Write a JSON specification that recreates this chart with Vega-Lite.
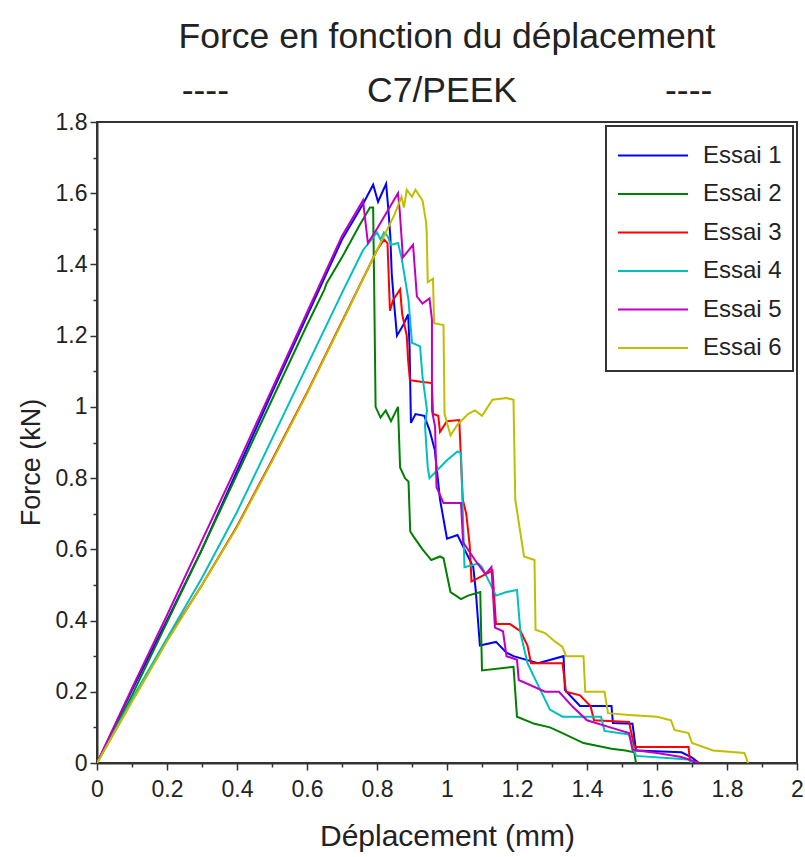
{
"$schema": "https://vega.github.io/schema/vega-lite/v6.json",
"width": 700, "height": 641,
"autosize": "none",
"padding": {"left": 97, "top": 122, "right": 8, "bottom": 94},
"background": "white",
"title": {"text": "Force en fonction du déplacement", "subtitle": "----\u00a0\u00a0\u00a0\u00a0\u00a0\u00a0\u00a0\u00a0\u00a0\u00a0\u00a0\u00a0\u00a0\u00a0C7/PEEK\u00a0\u00a0\u00a0\u00a0\u00a0\u00a0\u00a0\u00a0\u00a0\u00a0\u00a0\u00a0\u00a0\u00a0\u00a0----", "anchor": "middle", "font": "Liberation Sans", "subtitleFont": "Liberation Sans", "fontSize": 35.5, "subtitleFontSize": 35.5, "fontWeight": "normal", "color": "#222", "subtitleColor": "#222", "offset": 2, "subtitlePadding": 18},
"config": {
  "view": {"stroke": "#333", "strokeWidth": 2},
  "axis": {"grid": false, "domainColor": "#333", "domainWidth": 2, "tickColor": "#333", "tickWidth": 1.5, "labelColor": "#222", "titleColor": "#222", "labelFont": "Liberation Sans", "titleFont": "Liberation Sans", "labelFontSize": 23, "titleFontSize": 30, "titleFontWeight": "normal", "labelOverlap": false, "labelFlush": false}
},
"data": {"values": [
{"s":"Essai 1","x":0,"y":0},{"s":"Essai 1","x":0.1,"y":0.205},{"s":"Essai 1","x":0.2,"y":0.4},{"s":"Essai 1","x":0.3,"y":0.6},{"s":"Essai 1","x":0.4,"y":0.82},{"s":"Essai 1","x":0.5,"y":1.04},{"s":"Essai 1","x":0.6,"y":1.255},{"s":"Essai 1","x":0.7,"y":1.47},{"s":"Essai 1","x":0.76,"y":1.57},{"s":"Essai 1","x":0.789,"y":1.624},{"s":"Essai 1","x":0.803,"y":1.576},{"s":"Essai 1","x":0.826,"y":1.626},{"s":"Essai 1","x":0.832,"y":1.56},{"s":"Essai 1","x":0.838,"y":1.48},{"s":"Essai 1","x":0.842,"y":1.376},{"s":"Essai 1","x":0.848,"y":1.3},{"s":"Essai 1","x":0.857,"y":1.2},{"s":"Essai 1","x":0.875,"y":1.23},{"s":"Essai 1","x":0.889,"y":1.26},{"s":"Essai 1","x":0.893,"y":1.17},{"s":"Essai 1","x":0.897,"y":0.955},{"s":"Essai 1","x":0.91,"y":0.98},{"s":"Essai 1","x":0.935,"y":0.975},{"s":"Essai 1","x":0.95,"y":0.935},{"s":"Essai 1","x":0.965,"y":0.88},{"s":"Essai 1","x":0.98,"y":0.74},{"s":"Essai 1","x":1.0,"y":0.63},{"s":"Essai 1","x":1.03,"y":0.64},{"s":"Essai 1","x":1.05,"y":0.6},{"s":"Essai 1","x":1.075,"y":0.55},{"s":"Essai 1","x":1.082,"y":0.486},{"s":"Essai 1","x":1.094,"y":0.33},{"s":"Essai 1","x":1.14,"y":0.34},{"s":"Essai 1","x":1.17,"y":0.31},{"s":"Essai 1","x":1.19,"y":0.3},{"s":"Essai 1","x":1.26,"y":0.28},{"s":"Essai 1","x":1.333,"y":0.3},{"s":"Essai 1","x":1.337,"y":0.205},{"s":"Essai 1","x":1.38,"y":0.16},{"s":"Essai 1","x":1.47,"y":0.16},{"s":"Essai 1","x":1.474,"y":0.112},{"s":"Essai 1","x":1.53,"y":0.11},{"s":"Essai 1","x":1.54,"y":0.035},{"s":"Essai 1","x":1.67,"y":0.03},{"s":"Essai 1","x":1.7,"y":0.015},{"s":"Essai 1","x":1.72,"y":0},
{"s":"Essai 2","x":0,"y":0},{"s":"Essai 2","x":0.1,"y":0.19},{"s":"Essai 2","x":0.2,"y":0.395},{"s":"Essai 2","x":0.3,"y":0.6},{"s":"Essai 2","x":0.4,"y":0.81},{"s":"Essai 2","x":0.5,"y":1.02},{"s":"Essai 2","x":0.6,"y":1.23},{"s":"Essai 2","x":0.65,"y":1.33},{"s":"Essai 2","x":0.655,"y":1.345},{"s":"Essai 2","x":0.7,"y":1.42},{"s":"Essai 2","x":0.75,"y":1.51},{"s":"Essai 2","x":0.78,"y":1.56},{"s":"Essai 2","x":0.789,"y":1.56},{"s":"Essai 2","x":0.792,"y":1.33},{"s":"Essai 2","x":0.796,"y":1.0},{"s":"Essai 2","x":0.81,"y":0.97},{"s":"Essai 2","x":0.825,"y":0.99},{"s":"Essai 2","x":0.84,"y":0.96},{"s":"Essai 2","x":0.86,"y":1.0},{"s":"Essai 2","x":0.866,"y":0.83},{"s":"Essai 2","x":0.88,"y":0.8},{"s":"Essai 2","x":0.89,"y":0.79},{"s":"Essai 2","x":0.895,"y":0.65},{"s":"Essai 2","x":0.905,"y":0.635},{"s":"Essai 2","x":0.93,"y":0.6},{"s":"Essai 2","x":0.955,"y":0.57},{"s":"Essai 2","x":0.98,"y":0.58},{"s":"Essai 2","x":0.99,"y":0.575},{"s":"Essai 2","x":1.01,"y":0.48},{"s":"Essai 2","x":1.04,"y":0.46},{"s":"Essai 2","x":1.06,"y":0.47},{"s":"Essai 2","x":1.095,"y":0.48},{"s":"Essai 2","x":1.1,"y":0.26},{"s":"Essai 2","x":1.19,"y":0.27},{"s":"Essai 2","x":1.2,"y":0.13},{"s":"Essai 2","x":1.25,"y":0.11},{"s":"Essai 2","x":1.294,"y":0.1},{"s":"Essai 2","x":1.33,"y":0.084},{"s":"Essai 2","x":1.39,"y":0.056},{"s":"Essai 2","x":1.47,"y":0.04},{"s":"Essai 2","x":1.51,"y":0.035},{"s":"Essai 2","x":1.535,"y":0.03},{"s":"Essai 2","x":1.54,"y":0},
{"s":"Essai 3","x":0,"y":0},{"s":"Essai 3","x":0.1,"y":0.175},{"s":"Essai 3","x":0.2,"y":0.345},{"s":"Essai 3","x":0.3,"y":0.5},{"s":"Essai 3","x":0.4,"y":0.665},{"s":"Essai 3","x":0.5,"y":0.85},{"s":"Essai 3","x":0.6,"y":1.04},{"s":"Essai 3","x":0.7,"y":1.24},{"s":"Essai 3","x":0.8,"y":1.44},{"s":"Essai 3","x":0.82,"y":1.47},{"s":"Essai 3","x":0.83,"y":1.46},{"s":"Essai 3","x":0.837,"y":1.27},{"s":"Essai 3","x":0.846,"y":1.3},{"s":"Essai 3","x":0.866,"y":1.33},{"s":"Essai 3","x":0.872,"y":1.26},{"s":"Essai 3","x":0.885,"y":1.2},{"s":"Essai 3","x":0.889,"y":1.13},{"s":"Essai 3","x":0.894,"y":1.075},{"s":"Essai 3","x":0.93,"y":1.07},{"s":"Essai 3","x":0.957,"y":1.067},{"s":"Essai 3","x":0.96,"y":0.98},{"s":"Essai 3","x":0.975,"y":0.975},{"s":"Essai 3","x":0.98,"y":0.93},{"s":"Essai 3","x":1.0,"y":0.96},{"s":"Essai 3","x":1.035,"y":0.963},{"s":"Essai 3","x":1.045,"y":0.74},{"s":"Essai 3","x":1.055,"y":0.7},{"s":"Essai 3","x":1.065,"y":0.61},{"s":"Essai 3","x":1.07,"y":0.51},{"s":"Essai 3","x":1.09,"y":0.52},{"s":"Essai 3","x":1.13,"y":0.54},{"s":"Essai 3","x":1.14,"y":0.39},{"s":"Essai 3","x":1.18,"y":0.39},{"s":"Essai 3","x":1.21,"y":0.37},{"s":"Essai 3","x":1.23,"y":0.33},{"s":"Essai 3","x":1.24,"y":0.28},{"s":"Essai 3","x":1.33,"y":0.28},{"s":"Essai 3","x":1.34,"y":0.2},{"s":"Essai 3","x":1.38,"y":0.19},{"s":"Essai 3","x":1.41,"y":0.16},{"s":"Essai 3","x":1.42,"y":0.12},{"s":"Essai 3","x":1.52,"y":0.115},{"s":"Essai 3","x":1.535,"y":0.045},{"s":"Essai 3","x":1.69,"y":0.045},{"s":"Essai 3","x":1.695,"y":0},
{"s":"Essai 4","x":0,"y":0},{"s":"Essai 4","x":0.1,"y":0.18},{"s":"Essai 4","x":0.2,"y":0.35},{"s":"Essai 4","x":0.3,"y":0.52},{"s":"Essai 4","x":0.4,"y":0.705},{"s":"Essai 4","x":0.5,"y":0.91},{"s":"Essai 4","x":0.6,"y":1.115},{"s":"Essai 4","x":0.7,"y":1.32},{"s":"Essai 4","x":0.76,"y":1.44},{"s":"Essai 4","x":0.8,"y":1.49},{"s":"Essai 4","x":0.81,"y":1.47},{"s":"Essai 4","x":0.82,"y":1.49},{"s":"Essai 4","x":0.83,"y":1.48},{"s":"Essai 4","x":0.84,"y":1.455},{"s":"Essai 4","x":0.86,"y":1.46},{"s":"Essai 4","x":0.87,"y":1.42},{"s":"Essai 4","x":0.88,"y":1.36},{"s":"Essai 4","x":0.89,"y":1.3},{"s":"Essai 4","x":0.9,"y":1.18},{"s":"Essai 4","x":0.923,"y":1.17},{"s":"Essai 4","x":0.93,"y":1.085},{"s":"Essai 4","x":0.943,"y":0.99},{"s":"Essai 4","x":0.937,"y":0.95},{"s":"Essai 4","x":0.945,"y":0.83},{"s":"Essai 4","x":0.95,"y":0.8},{"s":"Essai 4","x":0.97,"y":0.82},{"s":"Essai 4","x":1.0,"y":0.85},{"s":"Essai 4","x":1.03,"y":0.875},{"s":"Essai 4","x":1.04,"y":0.87},{"s":"Essai 4","x":1.05,"y":0.55},{"s":"Essai 4","x":1.09,"y":0.56},{"s":"Essai 4","x":1.1,"y":0.55},{"s":"Essai 4","x":1.14,"y":0.47},{"s":"Essai 4","x":1.17,"y":0.48},{"s":"Essai 4","x":1.2,"y":0.486},{"s":"Essai 4","x":1.21,"y":0.365},{"s":"Essai 4","x":1.23,"y":0.28},{"s":"Essai 4","x":1.257,"y":0.225},{"s":"Essai 4","x":1.294,"y":0.15},{"s":"Essai 4","x":1.33,"y":0.13},{"s":"Essai 4","x":1.44,"y":0.13},{"s":"Essai 4","x":1.45,"y":0.09},{"s":"Essai 4","x":1.52,"y":0.08},{"s":"Essai 4","x":1.54,"y":0.02},{"s":"Essai 4","x":1.69,"y":0.01},{"s":"Essai 4","x":1.7,"y":0},
{"s":"Essai 5","x":0,"y":0},{"s":"Essai 5","x":0.1,"y":0.21},{"s":"Essai 5","x":0.2,"y":0.415},{"s":"Essai 5","x":0.3,"y":0.625},{"s":"Essai 5","x":0.4,"y":0.835},{"s":"Essai 5","x":0.5,"y":1.05},{"s":"Essai 5","x":0.6,"y":1.265},{"s":"Essai 5","x":0.7,"y":1.48},{"s":"Essai 5","x":0.76,"y":1.58},{"s":"Essai 5","x":0.774,"y":1.46},{"s":"Essai 5","x":0.8,"y":1.5},{"s":"Essai 5","x":0.83,"y":1.55},{"s":"Essai 5","x":0.86,"y":1.6},{"s":"Essai 5","x":0.865,"y":1.55},{"s":"Essai 5","x":0.874,"y":1.42},{"s":"Essai 5","x":0.903,"y":1.455},{"s":"Essai 5","x":0.914,"y":1.31},{"s":"Essai 5","x":0.93,"y":1.29},{"s":"Essai 5","x":0.95,"y":1.305},{"s":"Essai 5","x":0.957,"y":1.245},{"s":"Essai 5","x":0.957,"y":0.99},{"s":"Essai 5","x":0.966,"y":0.944},{"s":"Essai 5","x":0.97,"y":0.775},{"s":"Essai 5","x":0.99,"y":0.73},{"s":"Essai 5","x":1.04,"y":0.73},{"s":"Essai 5","x":1.046,"y":0.62},{"s":"Essai 5","x":1.08,"y":0.57},{"s":"Essai 5","x":1.11,"y":0.53},{"s":"Essai 5","x":1.127,"y":0.55},{"s":"Essai 5","x":1.137,"y":0.38},{"s":"Essai 5","x":1.16,"y":0.37},{"s":"Essai 5","x":1.17,"y":0.3},{"s":"Essai 5","x":1.2,"y":0.29},{"s":"Essai 5","x":1.205,"y":0.233},{"s":"Essai 5","x":1.28,"y":0.2},{"s":"Essai 5","x":1.32,"y":0.2},{"s":"Essai 5","x":1.36,"y":0.157},{"s":"Essai 5","x":1.4,"y":0.12},{"s":"Essai 5","x":1.466,"y":0.1},{"s":"Essai 5","x":1.52,"y":0.084},{"s":"Essai 5","x":1.53,"y":0.037},{"s":"Essai 5","x":1.6,"y":0.028},{"s":"Essai 5","x":1.67,"y":0.017},{"s":"Essai 5","x":1.72,"y":0},
{"s":"Essai 6","x":0,"y":0},{"s":"Essai 6","x":0.1,"y":0.172},{"s":"Essai 6","x":0.2,"y":0.342},{"s":"Essai 6","x":0.3,"y":0.5},{"s":"Essai 6","x":0.4,"y":0.662},{"s":"Essai 6","x":0.5,"y":0.847},{"s":"Essai 6","x":0.6,"y":1.037},{"s":"Essai 6","x":0.7,"y":1.237},{"s":"Essai 6","x":0.8,"y":1.44},{"s":"Essai 6","x":0.85,"y":1.54},{"s":"Essai 6","x":0.87,"y":1.59},{"s":"Essai 6","x":0.877,"y":1.56},{"s":"Essai 6","x":0.885,"y":1.61},{"s":"Essai 6","x":0.9,"y":1.59},{"s":"Essai 6","x":0.91,"y":1.61},{"s":"Essai 6","x":0.93,"y":1.58},{"s":"Essai 6","x":0.94,"y":1.52},{"s":"Essai 6","x":0.942,"y":1.49},{"s":"Essai 6","x":0.945,"y":1.35},{"s":"Essai 6","x":0.96,"y":1.36},{"s":"Essai 6","x":0.963,"y":1.235},{"s":"Essai 6","x":0.99,"y":1.23},{"s":"Essai 6","x":0.993,"y":0.98},{"s":"Essai 6","x":1.01,"y":0.92},{"s":"Essai 6","x":1.03,"y":0.95},{"s":"Essai 6","x":1.06,"y":0.98},{"s":"Essai 6","x":1.08,"y":0.99},{"s":"Essai 6","x":1.1,"y":0.975},{"s":"Essai 6","x":1.13,"y":1.02},{"s":"Essai 6","x":1.17,"y":1.025},{"s":"Essai 6","x":1.19,"y":1.02},{"s":"Essai 6","x":1.195,"y":0.74},{"s":"Essai 6","x":1.22,"y":0.58},{"s":"Essai 6","x":1.25,"y":0.57},{"s":"Essai 6","x":1.253,"y":0.374},{"s":"Essai 6","x":1.28,"y":0.365},{"s":"Essai 6","x":1.31,"y":0.34},{"s":"Essai 6","x":1.33,"y":0.326},{"s":"Essai 6","x":1.34,"y":0.3},{"s":"Essai 6","x":1.39,"y":0.3},{"s":"Essai 6","x":1.395,"y":0.2},{"s":"Essai 6","x":1.45,"y":0.2},{"s":"Essai 6","x":1.46,"y":0.14},{"s":"Essai 6","x":1.52,"y":0.135},{"s":"Essai 6","x":1.6,"y":0.13},{"s":"Essai 6","x":1.64,"y":0.12},{"s":"Essai 6","x":1.65,"y":0.093},{"s":"Essai 6","x":1.69,"y":0.084},{"s":"Essai 6","x":1.7,"y":0.056},{"s":"Essai 6","x":1.76,"y":0.035},{"s":"Essai 6","x":1.85,"y":0.028},{"s":"Essai 6","x":1.86,"y":0}
]},
"mark": {"type": "line", "strokeWidth": 2, "clip": true},
"encoding": {
  "x": {"field": "x", "type": "quantitative", "scale": {"domain": [0, 2], "nice": false, "zero": false},
        "axis": {"title": "Déplacement (mm)", "values": [0,0.1,0.2,0.3,0.4,0.5,0.6,0.7,0.8,0.9,1,1.1,1.2,1.3,1.4,1.5,1.6,1.7,1.8,1.9,2],
                 "labelExpr": "abs(datum.value*5-round(datum.value*5))<0.001 ? format(datum.value,'~g') : ''",
                 "tickSize": {"condition": {"test": "abs(datum.value*5-round(datum.value*5))<0.001", "value": 7}, "value": 4},
                 "labelPadding": 8, "titlePadding": 20}},
  "y": {"field": "y", "type": "quantitative", "scale": {"domain": [0, 1.8], "nice": false},
        "axis": {"title": "Force (kN)", "values": [0,0.1,0.2,0.3,0.4,0.5,0.6,0.7,0.8,0.9,1,1.1,1.2,1.3,1.4,1.5,1.6,1.7,1.8],
                 "labelExpr": "abs(datum.value*5-round(datum.value*5))<0.001 ? format(datum.value,'~g') : ''",
                 "tickSize": {"condition": {"test": "abs(datum.value*5-round(datum.value*5))<0.001", "value": 7}, "value": 4},
                 "labelPadding": 3, "titlePadding": 10, "titleFontSize": 27, "titleY": 340}},
  "color": {"field": "s", "type": "nominal",
            "scale": {"domain": ["Essai 1","Essai 2","Essai 3","Essai 4","Essai 5","Essai 6"], "range": ["#0000ff","#008000","#ff0000","#00bfbf","#bf00bf","#bfbf00"]},
            "legend": {"title": null, "orient": "top-right", "offset": 4, "strokeColor": "#333", "fillColor": "white", "padding": 11,
                       "symbolType": "M-1,0H3", "symbolSize": 1225, "symbolStrokeWidth": 2, "labelFontSize": 24, "labelFont": "Liberation Sans", "labelColor": "#222", "rowPadding": 7.5, "labelOffset": 49,
                       "encode": {"legend": {"update": {"strokeWidth": {"value": 2}}}}}},
  "order": {"value": null}
}
}
